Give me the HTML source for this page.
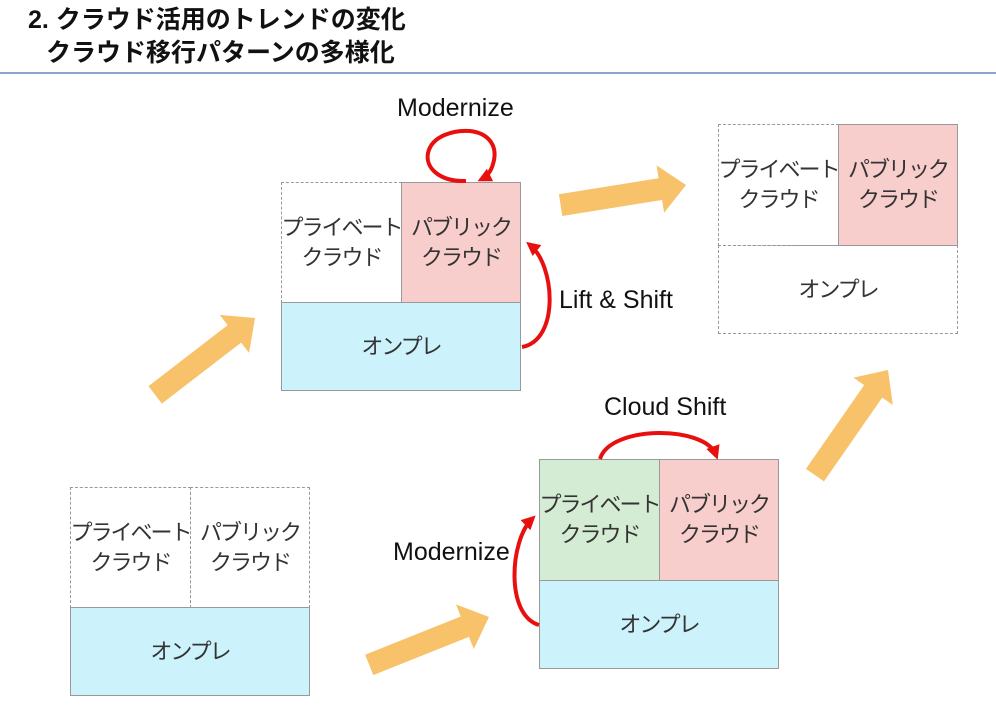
<!DOCTYPE html>
<html><head><meta charset="utf-8"><style>
body{margin:0;width:996px;height:724px;background:#fff;position:relative;overflow:hidden;font-family:"Liberation Sans","Noto Sans CJK JP",sans-serif;}
.t{position:absolute;font-weight:bold;font-size:25px;color:#111;left:28px;line-height:32px;white-space:nowrap;}
.b{position:absolute;box-sizing:border-box;display:flex;align-items:center;justify-content:center;text-align:center;font-size:22px;line-height:30px;color:#333;white-space:nowrap;letter-spacing:-2px;}
.d{border:1.5px dashed #999;}
.s{border:1.5px solid #999;}
.blue{background:#ccf2fc;}.pink{background:#f8cecc;}.green{background:#d5ecd4;}
.l{position:absolute;font-size:25px;color:#111;white-space:nowrap;}
</style></head><body>
<div class="t" style="top:4px">2. クラウド活用のトレンドの変化</div>
<div class="t" style="top:37px;left:46px">クラウド移行パターンの多様化</div>
<div style="position:absolute;left:0;top:72px;width:996px;height:2px;background:#8aa6cc"></div>

<div class="b d" style="left:70px;top:487px;width:121px;height:121px">プライベート<br>クラウド</div>
<div class="b d" style="left:190px;top:487px;width:120px;height:121px">パブリック<br>クラウド</div>
<div class="b s blue" style="left:70px;top:607px;width:240px;height:89px">オンプレ</div>

<div class="b d" style="left:281px;top:182px;width:121px;height:121px">プライベート<br>クラウド</div>
<div class="b s pink" style="left:401px;top:182px;width:120px;height:121px">パブリック<br>クラウド</div>
<div class="b s blue" style="left:281px;top:302px;width:240px;height:89px">オンプレ</div>

<div class="b d" style="left:718px;top:124px;width:121px;height:122px">プライベート<br>クラウド</div>
<div class="b s pink" style="left:838px;top:124px;width:120px;height:122px">パブリック<br>クラウド</div>
<div class="b d" style="left:718px;top:245px;width:240px;height:89px">オンプレ</div>

<div class="b s green" style="left:539px;top:459px;width:121px;height:122px">プライベート<br>クラウド</div>
<div class="b s pink" style="left:659px;top:459px;width:120px;height:122px">パブリック<br>クラウド</div>
<div class="b s blue" style="left:539px;top:580px;width:240px;height:89px">オンプレ</div>

<div class="l" style="left:397px;top:94px">Modernize</div>
<div class="l" style="left:559px;top:286px">Lift &amp; Shift</div>
<div class="l" style="left:604px;top:393px">Cloud Shift</div>
<div class="l" style="left:393px;top:538px">Modernize</div>

<svg width="996" height="724" style="position:absolute;left:0;top:0">
<defs><marker id="a2" markerWidth="14" markerHeight="14" refX="9" refY="7" orient="auto" markerUnits="userSpaceOnUse"><path d="M0,0 L14,7 L0,14 z" fill="#e8100f"/></marker></defs>
<g fill="#f7c26a">
<polygon transform="translate(255,318) rotate(-37.6)" points="0,0 -26,-24 -26,-11 -126,-11 -126,11 -26,11 -26,24"/>
<polygon transform="translate(686,185) rotate(-9.1)" points="0,0 -26,-24 -26,-11 -127,-11 -127,11 -26,11 -26,24"/>
<polygon transform="translate(489,617) rotate(-21.8)" points="0,0 -26,-24 -26,-11 -129,-11 -129,11 -26,11 -26,24"/>
<polygon transform="translate(888,370) rotate(-55.2)" points="0,0 -26,-24 -26,-11 -128,-11 -128,11 -26,11 -26,24"/>
</g>
<g fill="none" stroke="#e8100f" stroke-width="4">
<path d="M466,181 C440,182 425,168 428,153 C432,135 455,130 470,131 C488,133 497,145 494,160 C492,170 488,176 482,179" marker-end="url(#a2)"/>
<path d="M522,347 C560,340 555,265 530,245" marker-end="url(#a2)"/>
<path d="M600,459 C610,425 705,425 716,455" marker-end="url(#a2)"/>
<path d="M539,625 C505,615 510,540 532,519" marker-end="url(#a2)"/>
</g>
</svg>
</body></html>
